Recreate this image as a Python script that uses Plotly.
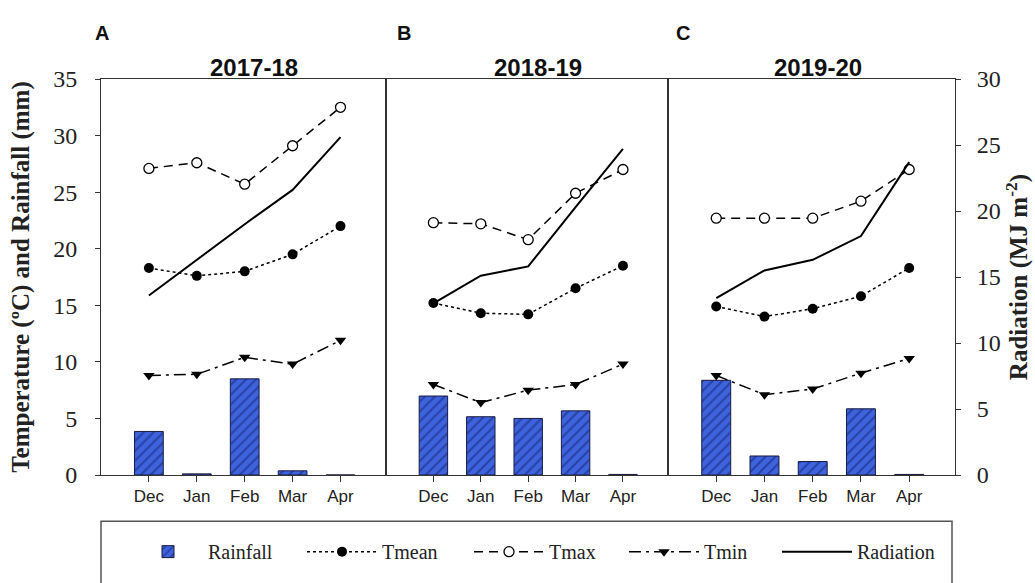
import plotly.graph_objects as go

months = ["Dec", "Jan", "Feb", "Mar", "Apr"]
seasons = ["2017-18", "2018-19", "2019-20"]
panel_letters = ["A", "B", "C"]

rain_A = [3.85, 0.1, 8.5, 0.37, 0.0]
rain_B = [6.98, 5.15, 5.0, 5.67, 0.05]
rain_C = [8.37, 1.68, 1.19, 5.85, 0.05]

tmean_A = [18.3, 17.6, 18.0, 19.5, 22.0]
tmean_B = [15.2, 14.3, 14.2, 16.5, 18.5]
tmean_C = [14.9, 14.0, 14.7, 15.8, 18.3]

tmax_A = [27.1, 27.6, 25.7, 29.1, 32.5]
tmax_B = [22.3, 22.2, 20.8, 24.9, 27.0]
tmax_C = [22.7, 22.7, 22.7, 24.2, 27.0]

tmin_A = [8.8, 8.9, 10.4, 9.8, 11.9]
tmin_B = [8.0, 6.4, 7.5, 8.0, 9.8]
tmin_C = [8.8, 7.1, 7.6, 9.0, 10.3]

rad_A = [13.6, 16.3, 19.0, 21.6, 25.6]
rad_B = [13.0, 15.1, 15.8, 20.3, 24.7]
rad_C = [13.4, 15.5, 16.3, 18.1, 23.7]

rain = [rain_A, rain_B, rain_C]
tmean = [tmean_A, tmean_B, tmean_C]
tmax = [tmax_A, tmax_B, tmax_C]
tmin = [tmin_A, tmin_B, tmin_C]
rad = [rad_A, rad_B, rad_C]

W, H = 1035, 583
ML, MR, MT, MB = 101, 80, 79, 101
PW, PH = W - ML - MR, H - MT - MB
def px(x):
    return (x - ML) / PW
def py(y):
    return (H - MB - y) / PH

SERIF = "Liberation Serif"
SANS = "Liberation Sans"
BLUE = "#3d63dd"

xaxes = ["x", "x2", "x3"]
taxes = ["y", "y3", "y4"]      # temperature / rainfall axes
raxes = ["y5", "y6", "y2"]     # radiation axes

fig = go.Figure()
for i in range(3):
    show = (i == 0)
    fig.add_trace(go.Bar(
        x=months, y=rain[i], xaxis=xaxes[i], yaxis=taxes[i], name="Rainfall",
        width=0.6, showlegend=show, legendrank=1, legendwidth=89,
        marker=dict(color=BLUE, line=dict(color="#1a1a40", width=1),
                    pattern=dict(shape="/", fgcolor="#14206e", bgcolor=BLUE,
                                 size=7, solidity=0.3)),
    ))
    fig.add_trace(go.Scatter(
        x=months, y=tmean[i], xaxis=xaxes[i], yaxis=taxes[i], name="Tmean",
        mode="lines+markers", showlegend=show, legendrank=2, legendwidth=82,
        line=dict(color="black", width=1.5, dash="dot"),
        marker=dict(symbol="circle", size=10, color="black"),
    ))
    fig.add_trace(go.Scatter(
        x=months, y=tmax[i], xaxis=xaxes[i], yaxis=taxes[i], name="Tmax",
        mode="lines+markers", showlegend=show, legendrank=3, legendwidth=70,
        line=dict(color="black", width=1.5, dash="9px,6px"),
        marker=dict(symbol="circle", size=10, color="white",
                    line=dict(width=1.3, color="black")),
    ))
    fig.add_trace(go.Scatter(
        x=months, y=tmin[i], xaxis=xaxes[i], yaxis=taxes[i], name="Tmin",
        mode="lines+markers", showlegend=show, legendrank=4, legendwidth=68,
        line=dict(color="black", width=1.5, dash="12px,5px,3px,5px"),
        marker=dict(symbol="triangle-down", size=10, color="black"),
    ))
    fig.add_trace(go.Scatter(
        x=months, y=rad[i], xaxis=xaxes[i], yaxis=raxes[i], name="Radiation",
        mode="lines", showlegend=show, legendrank=5, legendwidth=85,
        line=dict(color="black", width=2),
    ))

doms = [[0, px(386)], [px(386), px(668)], [px(668), 1]]
LC = "#333333"
xcommon = dict(range=[-1.0, 4.95], showline=True, linecolor=LC, linewidth=1, mirror=True,
               ticks="outside", ticklen=6, tickcolor=LC, showgrid=False, zeroline=False,
               tickfont=dict(family=SANS, size=17, color="#222"), type="category")
ycommon = dict(range=[0, 35], showline=True, linecolor=LC, linewidth=1, mirror=True,
               showgrid=False, zeroline=False, domain=[0, 1])

layout = dict(
    width=W, height=H, margin=dict(l=ML, r=MR, t=MT, b=MB),
    plot_bgcolor="white", paper_bgcolor="white", barmode="overlay",
    xaxis=dict(domain=doms[0], anchor="y", **xcommon),
    xaxis2=dict(domain=doms[1], anchor="y3", **xcommon),
    xaxis3=dict(domain=doms[2], anchor="y4", **xcommon),
    yaxis=dict(anchor="x", ticks="outside", ticklen=5, tickcolor=LC, dtick=5,
               ticklabelstandoff=13,
               tickfont=dict(family=SERIF, size=24, color="#222"),
               title=dict(text="<b>Temperature (ºC) and Rainfall (mm)</b>",
                          font=dict(family=SERIF, size=25, color="#222"), standoff=16),
               **ycommon),
    yaxis3=dict(anchor="x2", showticklabels=False, ticks="", **ycommon),
    yaxis4=dict(anchor="x3", showticklabels=False, ticks="", **ycommon),
    yaxis5=dict(anchor="x", overlaying="y", range=[0, 30], visible=False),
    yaxis6=dict(anchor="x2", overlaying="y3", range=[0, 30], visible=False),
    yaxis2=dict(anchor="x3", overlaying="y4", side="right", range=[0, 30], dtick=5,
                showline=True, linecolor=LC, linewidth=1, ticks="outside", ticklen=5,
                tickcolor=LC, showgrid=False, zeroline=False, ticklabelstandoff=11,
                tickfont=dict(family=SERIF, size=24, color="#222"),
                title=dict(text="<b>Radiation (MJ m<sup>-2</sup>)</b>",
                           font=dict(family=SERIF, size=25, color="#222"), standoff=6)),
    legend=dict(orientation="h", x=px(128), xanchor="left", y=py(560), yanchor="middle",
                font=dict(family=SERIF, size=20, color="#222"), itemwidth=70,
                entrywidthmode="pixels", traceorder="normal",
                bgcolor="rgba(0,0,0,0)", borderwidth=0),
    showlegend=True,
)
fig.update_layout(**layout)

title_x = [254, 538, 818]
letter_x = [102, 404, 683]
for i in range(3):
    fig.add_annotation(text="<b>%s</b>" % seasons[i], xref="paper", yref="paper",
                       x=px(title_x[i]), y=py(67), xanchor="center", yanchor="middle",
                       showarrow=False, font=dict(family=SANS, size=24, color="#111"))
    fig.add_annotation(text="<b>%s</b>" % panel_letters[i], xref="paper", yref="paper",
                       x=px(letter_x[i]), y=py(32), xanchor="center", yanchor="middle",
                       showarrow=False, font=dict(family=SANS, size=20, color="#111"))

fig.add_shape(type="rect", xref="paper", yref="paper",
              x0=px(101), x1=px(952), y0=py(529), y1=py(600),
              line=dict(color="#555", width=1.5), fillcolor="rgba(0,0,0,0)", layer="above")

fig.write_html("out.html")
